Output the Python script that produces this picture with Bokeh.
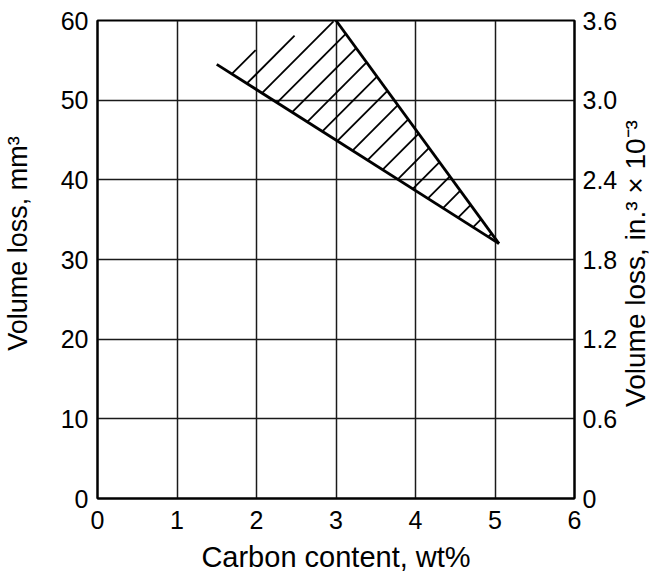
import math
import numpy as np
from bokeh.plotting import figure
from bokeh.models import Range1d, LinearAxis, FixedTicker
from bokeh.embed import file_html
from bokeh.resources import INLINE

# ---- data ----
carbon_lower = [1.5, 5.05]      # lower boundary line (wt% C)
vol_lower = [54.5, 32.0]        # mm^3
carbon_upper = [3.0, 5.05]      # upper/right boundary line
vol_upper = [60.0, 32.0]
band_carbon = [1.5, 3.0, 5.05]  # hatched scatter band (triangle)
band_vol = [54.5, 60.0, 32.0]

x_ticks = [0, 1, 2, 3, 4, 5, 6]
y_ticks = [0, 10, 20, 30, 40, 50, 60]
y2_ticks = [0, 0.6, 1.2, 1.8, 2.4, 3.0, 3.6]
y2_labels = ["0", "0.6", "1.2", "1.8", "2.4", "3.0", "3.6"]

x_title = "Carbon content, wt%"
left_title = "Volume loss, mm³"
right_title = "Volume loss, in.³ × 10⁻³"

# ---- style ----
FONT = "Liberation Sans"
TICK_SIZE = "25px"
X_LABEL_SIZE = "29px"
LEFT_LABEL_SIZE = "27px"
RIGHT_LABEL_SIZE = "28px"
HATCH_SLOPE = 10.0   # data slope that appears at 45 degrees on screen
HATCH_STEP = 3.1     # spacing of hatch lines (in intercept units)
LEFT_TITLE_AT = 32.0
RIGHT_TITLE_AT = 0.69   # where the right title starts (it reads upward)


def hatch_segments(px, py, slope, step):
    """Clip parallel lines y = slope*x + k to the convex polygon (px, py)."""
    px = np.asarray(px, float)
    py = np.asarray(py, float)
    ks = py - slope * px
    x0s, y0s, x1s, y1s = [], [], [], []
    k = ks.max() - step
    while k > ks.min():
        pts = []
        n = len(px)
        for i in range(n):
            j = (i + 1) % n
            fa = py[i] - slope * px[i] - k
            fb = py[j] - slope * px[j] - k
            if fa == fb:
                continue
            t = fa / (fa - fb)
            if 0 <= t <= 1:
                pts.append((px[i] + t * (px[j] - px[i]), py[i] + t * (py[j] - py[i])))
        if len(pts) >= 2:
            pts.sort()
            x0s.append(pts[0][0]); y0s.append(pts[0][1])
            x1s.append(pts[-1][0]); y1s.append(pts[-1][1])
        k -= step
    return x0s, y0s, x1s, y1s


p = figure(width=669, height=576,
           x_range=Range1d(0, 6), y_range=Range1d(0, 60),
           output_backend="svg", toolbar_location=None,
           min_border_left=97, min_border_right=95,
           min_border_top=20, min_border_bottom=78)
p.extra_y_ranges = {"inch": Range1d(0, 3.6)}

p.background_fill_color = "white"
p.border_fill_color = "white"
p.outline_line_color = "black"
p.outline_line_width = 2

# grid
p.xgrid.ticker = FixedTicker(ticks=x_ticks)
p.ygrid.ticker = FixedTicker(ticks=y_ticks)
for g in (p.xgrid, p.ygrid):
    g.grid_line_color = "#1a1a1a"
    g.grid_line_width = 1.5

# hatched band
hx0, hy0, hx1, hy1 = hatch_segments(band_carbon, band_vol, HATCH_SLOPE, HATCH_STEP)
p.segment(hx0, hy0, hx1, hy1, line_color="black", line_width=1.8)
p.line(carbon_lower, vol_lower, line_color="black", line_width=2.8)
p.line(carbon_upper, vol_upper, line_color="black", line_width=2.8)

# axes
right = LinearAxis(y_range_name="inch")
p.add_layout(right, "right")

p.xaxis.ticker = FixedTicker(ticks=x_ticks)
p.yaxis[0].ticker = FixedTicker(ticks=y_ticks)
right.ticker = FixedTicker(ticks=y2_ticks)
right.major_label_overrides = {t: l for t, l in zip(y2_ticks, y2_labels)}
p.xaxis.axis_label = x_title

for ax in p.xaxis + p.yaxis:
    ax.axis_line_color = "black"
    ax.axis_line_width = 2
    ax.major_tick_in = 0
    ax.major_tick_out = 0
    ax.minor_tick_line_color = None
    ax.major_label_text_font = FONT
    ax.major_label_text_font_size = TICK_SIZE
    ax.major_label_text_color = "black"
    ax.axis_label_text_font = FONT
    ax.axis_label_text_font_size = X_LABEL_SIZE
    ax.axis_label_text_font_style = "normal"
    ax.axis_label_text_color = "black"

p.xaxis.major_label_standoff = 12
p.xaxis.axis_label_standoff = 9
p.yaxis[0].major_label_standoff = 9
right.major_label_standoff = 8


def title_axis(range_name, pos, text, size, standoff, angle):
    kw = {"y_range_name": range_name} if range_name else {}
    ax = LinearAxis(ticker=FixedTicker(ticks=[pos]),
                    major_label_overrides={pos: text},
                    major_label_orientation=angle,
                    axis_line_color=None, major_tick_line_color=None,
                    minor_tick_line_color=None,
                    major_label_text_font=FONT,
                    major_label_text_font_size=size,
                    major_label_text_color="black",
                    major_label_standoff=standoff, **kw)
    return ax


p.add_layout(title_axis(None, LEFT_TITLE_AT, left_title, LEFT_LABEL_SIZE, 18, "vertical"), "left")
p.add_layout(title_axis("inch", RIGHT_TITLE_AT, right_title, RIGHT_LABEL_SIZE, 9, math.pi / 2), "right")

open("out.html", "w").write(file_html(p, INLINE))
